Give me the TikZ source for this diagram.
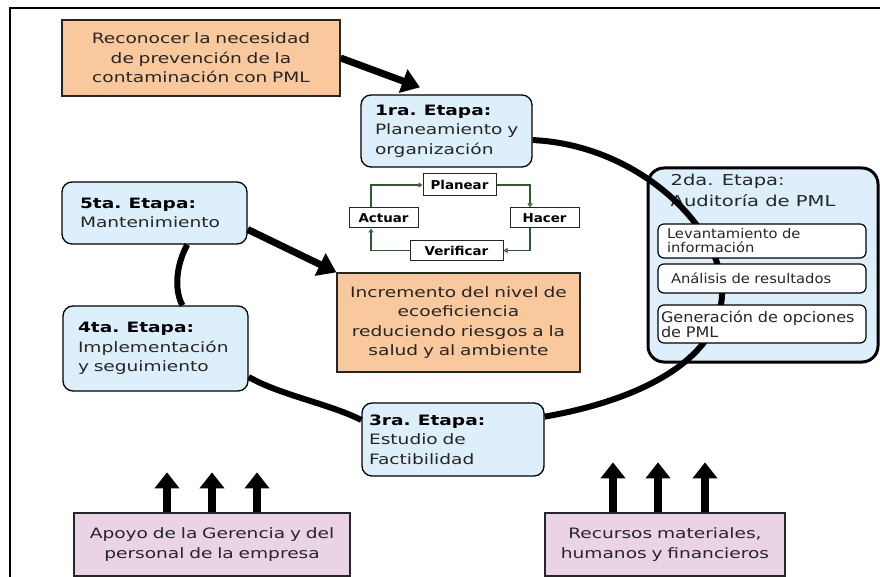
\documentclass[tikz,border=0pt]{standalone}
\usepackage{fontspec}
\setmainfont{DejaVu Sans}[FakeStretch=1.3]
\newfontfamily\narrowfam{DejaVu Sans}[FakeStretch=1.1]
\usetikzlibrary{arrows.meta,calc}

\definecolor{stageblue}{HTML}{DDEFFB}
\definecolor{goalorange}{HTML}{F9C89C}
\definecolor{supportpink}{HTML}{EAD3E5}
\definecolor{pdcagreen}{HTML}{2E5A2E}
\definecolor{ink}{HTML}{262626}

\newcommand\bodyfont{\fontsize{14.3pt}{19.5pt}\selectfont}
\newcommand\subfont{\narrowfam\fontsize{13.4pt}{14pt}\selectfont}
\newcommand\pdcafont{\narrowfam\fontsize{12.2pt}{13pt}\selectfont\bfseries}

\begin{document}
\begin{tikzpicture}[x=1pt,y=-1pt,
  stage/.style={draw=black, line width=1.3pt, fill=stageblue, rounded corners=10pt,
    text=ink, align=left, inner ysep=0pt, font=\bodyfont},
  goal/.style={draw=ink, line width=1.3pt, fill=goalorange, text=ink,
    align=center, inner xsep=6pt, inner ysep=0pt, font=\bodyfont},
  support/.style={draw=ink, line width=1.3pt, fill=supportpink, text=ink,
    align=center, inner xsep=6pt, inner ysep=0pt, font=\bodyfont},
  substep/.style={draw=black, line width=1.2pt, fill=white, rounded corners=6pt,
    text=ink, align=left, inner ysep=0pt, font=\subfont},
  pdcabox/.style={draw=ink, line width=1pt, fill=white, inner sep=0pt,
    text=black, font=\pdcafont},
  pdcalink/.style={draw=pdcagreen, line width=1.3pt,
    -{Triangle[open,length=4pt,width=5pt]}},
  ring/.style={draw=black, line width=6pt},
  fatarrow/.style={draw=black, line width=7pt, -{Triangle[length=18pt,width=24pt]}},
  uparrow/.style={draw=black, line width=8pt, -{Triangle[length=16pt,width=24pt]}}
]
\useasboundingbox (0,0) rectangle (880,577);
\fill[white] (0,0) rectangle (880,577);

% page frame
\draw[line width=2.5pt] (10,577) -- (10,8) -- (880,8);

% starting point and outcome
\node[goal, minimum width=278pt, minimum height=76pt, text width=266pt] (rec) at (201,58)
  {Reconocer la necesidad\\de prevención de la\\contaminación con PML};
\node[goal, minimum width=243pt, minimum height=99pt, text width=231pt] (inc) at (458.5,322.5)
  {Incremento del nivel de\\ecoeficiencia\\reduciendo riesgos a la\\salud y al ambiente};

% stages
\node[stage, minimum width=171pt, minimum height=72pt, inner xsep=14pt, text width=143pt] (s1) at (446.5,131)
  {\textbf{\color{black}1ra. Etapa:}\\Planeamiento~y\\organización};
\node[stage, minimum width=185pt, minimum height=62pt, inner xsep=18pt, text width=149pt] (s5) at (154.5,213)
  {\textbf{\color{black}5ta. Etapa:}\\Mantenimiento};
\node[stage, minimum width=185pt, minimum height=85pt, inner xsep=15pt, text width=155pt] (s4) at (155.5,348.5)
  {\textbf{\color{black}4ta. Etapa:}\\Implementación\\y seguimiento};
\node[stage, minimum width=182pt, minimum height=73pt, inner xsep=7pt, text width=168pt] (s3) at (453,439.5)
  {\textbf{\color{black}3ra. Etapa:}\\Estudio de\\Factibilidad};
\node[draw=black, line width=3pt, fill=stageblue, rounded corners=16pt,
  minimum width=230pt, minimum height=194pt] (s2) at (763,265) {};
\node[anchor=north west, inner sep=0pt, align=left, text=ink,
  font=\fontsize{15pt}{21pt}\selectfont] (s2t) at ([xshift=24pt,yshift=-7pt]s2.north west)
  {2da. Etapa:\\Auditoría de PML};

% support boxes
\node[support, minimum width=276pt, minimum height=63pt, text width=264pt] (pin1) at (212,544.5)
  {Apoyo de la Gerencia y del\\personal de la empresa};
\node[support, minimum width=240pt, minimum height=63pt, text width=228pt] (pin2) at (665,544.5)
  {Recursos materiales,\\humanos y financieros};

% PDCA cycle
\node[pdcabox, minimum width=73pt, minimum height=22pt] (plan) at (459.5,185) {Planear};
\node[pdcabox, minimum width=69pt, minimum height=20pt] (hacer) at (544.5,218) {Hacer};
\node[pdcabox, minimum width=93pt, minimum height=19pt] (verif) at (456.5,250.5) {Verificar};
\node[pdcabox, minimum width=69pt, minimum height=20pt] (act) at (383.5,218) {Actuar};
\draw[pdcalink] (plan.east) -| ([xshift=-14.5pt]hacer.north);
\draw[pdcalink] ([xshift=-14.5pt]hacer.south) |- (verif.east);
\draw[pdcalink] (verif.west) -| ([xshift=-12.5pt]act.south);
\draw[pdcalink] ([xshift=-12.5pt]act.north) |- (plan.west);

% the improvement ring
\draw[ring] (s1.-6) .. controls (640,145) and (725,230) .. (722,295)
  .. controls (719,360) and (640,400) .. (s3.14);
\draw[ring] (s5.-44) .. controls (176,265) and (174,290) .. (s4.58);
\draw[ring] (s4.-17) .. controls (280,395) and (330,404) .. (s3.168);

% audit sub-steps
\node[substep, minimum width=208pt, minimum height=34pt, inner xsep=9pt, text width=190pt] (lev) at (762,241)
  {Levantamiento de\\información};
\node[substep, minimum width=208pt, minimum height=29pt, inner xsep=13pt, text width=182pt] (ana) at (762,278.5)
  {Análisis de resultados};
\node[substep, minimum width=208pt, minimum height=38pt, inner xsep=3pt, text width=202pt,
  font=\narrowfam\fontsize{14.6pt}{15pt}\selectfont] (gen) at (762,324)
  {Generación de opciones\\de PML};

% arrows
\draw[fatarrow] (rec.east) -- ([xshift=-26.5pt,yshift=7pt]s1.north);
\draw[fatarrow] (s5.-10) -- (inc.north west);
\foreach \dx in {-45,0,45}
  \draw[uparrow] ([xshift=\dx pt]pin1.north) -- ++(0,-40);
\foreach \dx in {-52,-7,40}
  \draw[uparrow] ([xshift=\dx pt]pin2.north) -- ++(0,-50);
\end{tikzpicture}
\end{document}
